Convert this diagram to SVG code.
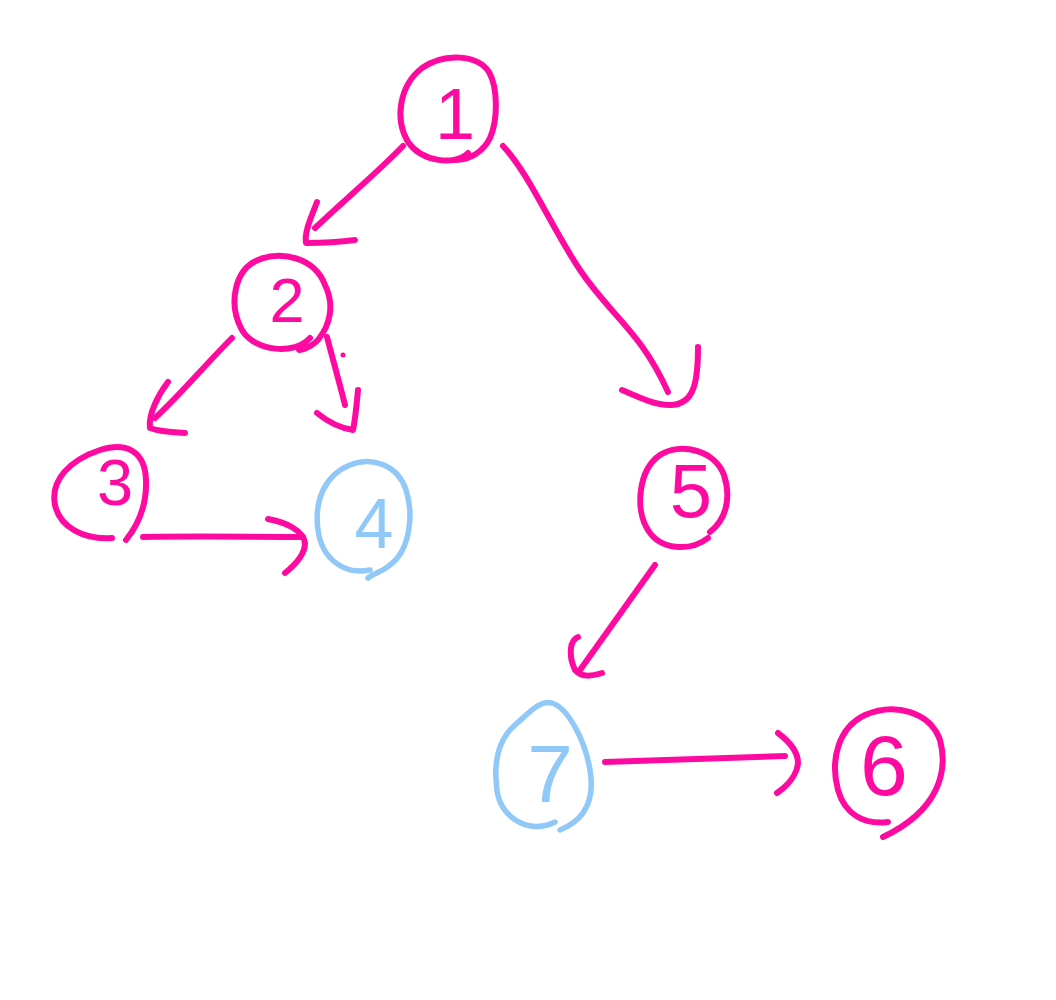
<svg xmlns="http://www.w3.org/2000/svg" width="1056" height="1000" viewBox="0 0 1056 1000">
<style>
.m{fill:none;stroke:#FF0AA0;stroke-width:6;stroke-linecap:round;stroke-linejoin:round}
.b{fill:none;stroke:#90C8F8;stroke-width:5.5;stroke-linecap:round;stroke-linejoin:round}
.tm{fill:#FF0AA0;font-family:"Liberation Sans",Arial,sans-serif;text-anchor:middle}
.tb{fill:#90C8F8;font-family:"Liberation Sans",Arial,sans-serif;text-anchor:middle}
</style>
<rect width="1056" height="1000" fill="#ffffff"/>
<g id="node1">
<path class="m" d="M468,153 C455,166 422,162 408,142 C394,118 400,85 422,68 C445,52 478,55 489,72 C498,88 498,120 490,138 C483,152 470,160 455,160"/>
<text class="tm" x="455" y="139" font-size="72">1</text>
</g>
<g id="node2">
<path class="m" d="M310,338 C295,355 255,352 242,330 C228,305 234,270 258,260 C282,250 315,258 325,285 C335,305 330,325 318,340 C308,350 295,352 300,348"/>
<text class="tm" x="287" y="322" font-size="63">2</text>
</g>
<g id="node3">
<path class="m" d="M112,538 C85,540 60,528 55,505 C50,480 70,460 100,450 C125,442 145,450 146,480 C147,505 138,525 126,540"/>
<text class="tm" x="115" y="505" font-size="65">3</text>
</g>
<g id="node4">
<path class="b" d="M370,570 C345,575 322,560 318,530 C314,500 325,475 350,465 C372,456 398,465 406,490 C414,515 410,550 390,565 C382,572 372,574 368,578"/>
<text class="tb" x="374" y="548" font-size="70">4</text>
</g>
<g id="node5">
<path class="m" d="M708,538 C690,552 660,550 648,530 C635,510 638,470 660,455 C680,442 715,450 724,475 C732,500 725,520 710,532"/>
<text class="tm" x="691" y="517" font-size="76">5</text>
</g>
<g id="node7">
<path class="b" d="M555,822 C530,835 500,818 497,790 C493,760 500,738 515,725 C530,712 540,700 552,703 C568,708 585,740 590,770 C595,800 585,820 560,830"/>
<text class="tb" x="550" y="802" font-size="82">7</text>
</g>
<g id="node6">
<path class="m" d="M888,822 C865,825 845,815 838,790 C830,760 838,728 865,715 C895,702 930,712 940,740 C948,770 940,810 883,837"/>
<text class="tm" x="884" y="795" font-size="86">6</text>
</g>
<g id="connectors">
<path class="m" d="M403,146 C380,170 350,195 315,228"/>
<path class="m" d="M317,202 C312,215 304,232 306,243 C320,243 340,242 355,240"/>
<path class="m" d="M503,146 C530,175 550,225 580,270 C610,315 640,330 668,392"/>
<path class="m" d="M698,347 C698,380 695,405 670,405 C655,405 640,398 622,390"/>
<path class="m" d="M232,338 C205,365 180,395 155,418"/>
<path class="m" d="M168,382 C158,395 148,415 150,428 C160,432 172,432 185,433"/>
<path class="m" d="M327,337 C333,360 340,385 345,405"/>
<circle cx="343" cy="355" r="2.5" fill="#FF0AA0"/>
<path class="m" d="M317,413 C328,422 340,428 353,430 C356,415 357,400 358,390"/>
<path class="m" d="M143,537 C200,536 250,537 303,537"/>
<path class="m" d="M268,519 C285,522 303,530 305,543 C305,555 295,565 285,573"/>
<path class="m" d="M655,565 C630,600 605,635 580,670"/>
<path class="m" d="M578,637 C570,640 568,655 575,670 C582,678 592,676 602,673"/>
<path class="m" d="M605,762 C665,760 725,758 785,756"/>
<path class="m" d="M778,733 C790,742 798,752 798,763 C797,775 787,786 777,793"/>
</g>
</svg>
